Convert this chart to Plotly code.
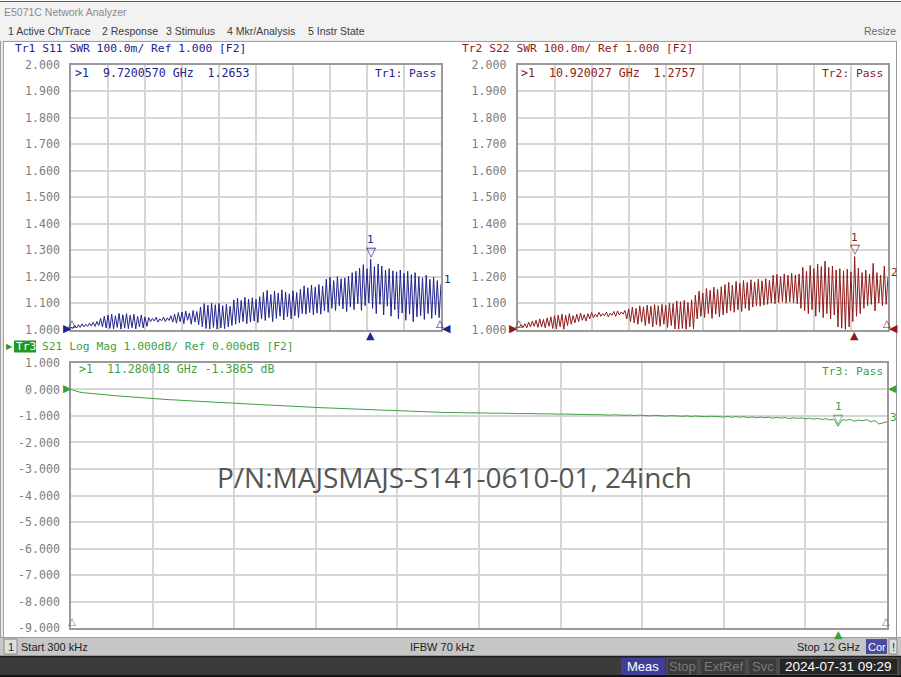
import numpy as np
import plotly.graph_objects as go

W, H = 901, 677          # reference picture size (layout positions below are in these pixels)
FIG_H = 690              # figure height used on the page (positions are fractions, so they scale)

# ---------------- data ----------------
start_ghz = 0.0003
stop_ghz = 12.0
n_points = 201

s11_swr = [
    1.008, 1.004, 1.016, 1.006, 1.018, 1.008, 1.021, 1.010, 1.020, 1.012,
    1.024, 1.013, 1.027, 1.012, 1.030, 1.015, 1.042, 1.010, 1.050, 1.006,
    1.055, 1.004, 1.058, 1.002, 1.052, 1.008, 1.061, 1.001, 1.056, 1.005,
    1.060, 1.003, 1.054, 1.007, 1.058, 1.002, 1.050, 1.010, 1.055, 1.006,
    1.048, 1.012, 1.045, 1.030, 1.042, 1.032, 1.046, 1.028, 1.040, 1.033,
    1.047, 1.030, 1.044, 1.034, 1.052, 1.028, 1.058, 1.024, 1.064, 1.030,
    1.066, 1.022, 1.070, 1.035, 1.062, 1.020, 1.072, 1.028, 1.068, 1.018,
    1.085, 1.010, 1.098, 1.004, 1.092, 1.002, 1.100, 1.008, 1.094, 1.001,
    1.099, 1.006, 1.090, 1.003, 1.096, 1.010, 1.088, 1.015, 1.112, 1.020,
    1.118, 1.025, 1.110, 1.030, 1.122, 1.022, 1.115, 1.028, 1.120, 1.032,
    1.114, 1.026, 1.124, 1.040, 1.140, 1.034, 1.148, 1.045, 1.132, 1.030,
    1.145, 1.042, 1.138, 1.050, 1.150, 1.036, 1.142, 1.048, 1.135, 1.040,
    1.146, 1.052, 1.140, 1.045, 1.152, 1.060, 1.165, 1.058, 1.158, 1.064,
    1.168, 1.056, 1.160, 1.062, 1.170, 1.058, 1.164, 1.070, 1.190, 1.065,
    1.198, 1.080, 1.185, 1.072, 1.200, 1.090, 1.192, 1.078, 1.195, 1.068,
    1.202, 1.085, 1.215, 1.075, 1.220, 1.098, 1.232, 1.072, 1.245, 1.090,
    1.230, 1.100, 1.2653, 1.080, 1.238, 1.060, 1.248, 1.095, 1.240, 1.055,
    1.225, 1.088, 1.230, 1.050, 1.222, 1.075, 1.218, 1.040, 1.225, 1.062,
    1.212, 1.035, 1.220, 1.058, 1.208, 1.030, 1.215, 1.048, 1.200, 1.052,
    1.195, 1.038, 1.205, 1.060, 1.190, 1.042, 1.198, 1.055, 1.185, 1.045,
    1.172,
]

s22_swr = [
    1.006, 1.010, 1.018, 1.008, 1.022, 1.006, 1.028, 1.010, 1.032, 1.012,
    1.035, 1.008, 1.040, 1.010, 1.038, 1.006, 1.044, 1.012, 1.048, 1.004,
    1.052, 1.002, 1.055, 1.010, 1.058, 1.000, 1.054, 1.015, 1.060, 1.020,
    1.052, 1.025, 1.058, 1.030, 1.062, 1.035, 1.056, 1.032, 1.060, 1.040,
    1.064, 1.045, 1.058, 1.048, 1.065, 1.050, 1.060, 1.052, 1.066, 1.048,
    1.062, 1.054, 1.068, 1.050, 1.070, 1.055, 1.066, 1.058, 1.072, 1.040,
    1.078, 1.030, 1.085, 1.025, 1.080, 1.020, 1.090, 1.028, 1.086, 1.015,
    1.092, 1.022, 1.088, 1.010, 1.094, 1.018, 1.090, 1.012, 1.095, 1.020,
    1.092, 1.008, 1.100, 1.015, 1.098, 1.002, 1.108, 1.000, 1.105, 1.004,
    1.110, 1.000, 1.102, 1.010, 1.112, 1.002, 1.130, 1.040, 1.145, 1.050,
    1.138, 1.045, 1.155, 1.060, 1.148, 1.042, 1.160, 1.058, 1.152, 1.048,
    1.162, 1.055, 1.170, 1.062, 1.178, 1.070, 1.168, 1.065, 1.182, 1.075,
    1.175, 1.068, 1.185, 1.080, 1.178, 1.072, 1.188, 1.085, 1.180, 1.090,
    1.190, 1.088, 1.184, 1.092, 1.192, 1.095, 1.186, 1.100, 1.205, 1.098,
    1.208, 1.102, 1.200, 1.105, 1.210, 1.100, 1.205, 1.104, 1.212, 1.100,
    1.206, 1.098, 1.210, 1.080, 1.235, 1.070, 1.220, 1.060, 1.242, 1.075,
    1.230, 1.050, 1.248, 1.065, 1.238, 1.045, 1.258, 1.060, 1.235, 1.040,
    1.240, 1.055, 1.225, 1.010, 1.230, 1.005, 1.222, 1.000, 1.228, 1.010,
    1.218, 1.030, 1.2757, 1.050, 1.232, 1.060, 1.215, 1.080, 1.225, 1.090,
    1.210, 1.095, 1.250, 1.070, 1.215, 1.100, 1.205, 1.090, 1.240, 1.095,
    1.200,
]

s21_db = [
    0.000, -0.055, -0.096, -0.121, -0.139, -0.157, -0.171, -0.189, -0.199, -0.213,
    -0.226, -0.238, -0.249, -0.262, -0.273, -0.286, -0.297, -0.309, -0.318, -0.331,
    -0.343, -0.352, -0.366, -0.373, -0.385, -0.391, -0.402, -0.408, -0.419, -0.425,
    -0.436, -0.442, -0.453, -0.459, -0.470, -0.476, -0.487, -0.493, -0.504, -0.510,
    -0.521, -0.527, -0.537, -0.543, -0.553, -0.559, -0.569, -0.575, -0.585, -0.591,
    -0.601, -0.607, -0.617, -0.623, -0.633, -0.639, -0.649, -0.655, -0.665, -0.671,
    -0.680, -0.685, -0.693, -0.697, -0.705, -0.709, -0.717, -0.721, -0.729, -0.733,
    -0.741, -0.745, -0.753, -0.757, -0.765, -0.768, -0.777, -0.780, -0.789, -0.792,
    -0.800, -0.806, -0.812, -0.817, -0.822, -0.828, -0.834, -0.840, -0.845, -0.852,
    -0.857, -0.862, -0.870, -0.866, -0.874, -0.872, -0.880, -0.876, -0.884, -0.881,
    -0.888, -0.884, -0.892, -0.889, -0.896, -0.892, -0.900, -0.897, -0.905, -0.901,
    -0.910, -0.905, -0.914, -0.910, -0.918, -0.914, -0.922, -0.918, -0.928, -0.922,
    -0.932, -0.926, -0.938, -0.930, -0.942, -0.936, -0.948, -0.940, -0.952, -0.946,
    -0.958, -0.950, -0.968, -0.955, -0.970, -0.960, -0.975, -0.962, -0.985, -0.968,
    -0.980, -0.972, -0.995, -0.975, -0.990, -0.982, -1.005, -0.985, -1.000, -0.992,
    -1.010, -0.995, -1.020, -1.000, -1.015, -1.005, -1.030, -1.010, -1.025, -1.015,
    -1.040, -1.018, -1.050, -1.025, -1.045, -1.030, -1.060, -1.035, -1.070, -1.040,
    -1.065, -1.045, -1.085, -1.050, -1.080, -1.060, -1.095, -1.065, -1.090, -1.070,
    -1.110, -1.080, -1.120, -1.090, -1.130, -1.100, -1.150, -1.120, -1.3865, -1.140,
    -1.160, -1.130, -1.200, -1.150, -1.180, -1.140, -1.220, -1.170, -1.300, -1.260,
    -1.220,
]

swr_ticks = [1.0, 1.1, 1.2, 1.3, 1.4, 1.5, 1.6, 1.7, 1.8, 1.9, 2.0]
swr_tick_labels = ["1.000", "1.100", "1.200", "1.300", "1.400", "1.500",
                   "1.600", "1.700", "1.800", "1.900", "2.000"]
db_ticks = [1, 0, -1, -2, -3, -4, -5, -6, -7, -8, -9]
db_tick_labels = ["1.000", "0.000", "-1.000", "-2.000", "-3.000", "-4.000",
                  "-5.000", "-6.000", "-7.000", "-8.000", "-9.000"]

marker_freq = [9.7200570, 10.920027, 11.280018]
marker_val = [1.2653, 1.2757, -1.3865]
marker_text = [">1\u00a0\u00a09.7200570\u00a0GHz\u00a0\u00a01.2653",
               ">1\u00a0\u00a010.920027\u00a0GHz\u00a0\u00a01.2757",
               ">1\u00a0\u00a011.280018\u00a0GHz\u00a0-1.3865\u00a0dB"]
ref_val = [1.0, 1.0, 0.0]

assert len(s11_swr) == n_points and len(s22_swr) == n_points and len(s21_db) == n_points
freq = np.linspace(start_ghz, stop_ghz, n_points)

# ---------------- style ----------------
NAVY = "#23238c"
RED = "#8e1b1b"
GREEN = "#3f9f3f"
GRID = "#d6d6d6"
BORDER = "#9a9a9a"
TICK = "#7d7d7d"
MONO = "DejaVu Sans Mono"
SANS = "Liberation Sans"
GLYPH = "DejaVu Sans"
VS = FIG_H / H  # vertical pixel factor for pixel shifts


def PX(x):
    return x / W


def PY(y):
    return 1 - y / H


fig = go.Figure()
fig.add_trace(go.Scatter(x=freq, y=s11_swr, mode="lines", line=dict(color=NAVY, width=1),
                         xaxis="x", yaxis="y", hoverinfo="skip"))
fig.add_trace(go.Scatter(x=freq, y=s22_swr, mode="lines", line=dict(color=RED, width=1),
                         xaxis="x2", yaxis="y2", hoverinfo="skip"))
fig.add_trace(go.Scatter(x=freq, y=s21_db, mode="lines", line=dict(color=GREEN, width=1),
                         xaxis="x3", yaxis="y3", hoverinfo="skip"))


def xax(domain, anchor):
    return dict(domain=domain, anchor=anchor, range=[start_ghz, stop_ghz],
                showticklabels=False, ticks="", showgrid=True, gridcolor=GRID, gridwidth=1.5,
                tick0=start_ghz, dtick=(stop_ghz - start_ghz) / 10, zeroline=False,
                showline=True, mirror=True, linecolor=BORDER, linewidth=1.5, fixedrange=True)


def yax(domain, anchor, rng, vals, labels):
    return dict(domain=domain, anchor=anchor, range=rng, tickmode="array",
                tickvals=vals, ticktext=labels, ticks="", showgrid=True, gridcolor=GRID,
                gridwidth=1.5, zeroline=False, showline=True, mirror=True, linecolor=BORDER,
                linewidth=1.5, tickfont=dict(family=MONO, size=11.6, color=TICK),
                ticklabelstandoff=7, fixedrange=True)


top_y = [PY(329), PY(64)]
fig.update_layout(
    xaxis=xax([PX(71), PX(441)], "y"),
    yaxis=yax(top_y, "x", [1, 2], swr_ticks, swr_tick_labels),
    xaxis2=xax([PX(517.5), PX(888)], "y2"),
    yaxis2=yax(top_y, "x2", [1, 2], swr_ticks, swr_tick_labels),
    xaxis3=xax([PX(71), PX(887)], "y3"),
    yaxis3=yax([PY(628), PY(362.5)], "x3", [-9, 1], db_ticks, db_tick_labels),
)

shapes = []


def rect(x0, y0, x1, y1, fill, line=None, lw=0):
    shapes.append(dict(type="rect", xref="paper", yref="paper", x0=PX(x0), x1=PX(x1),
                       y0=PY(y1), y1=PY(y0), fillcolor=fill,
                       line=dict(color=line or fill, width=lw), layer="below"))


def hline(x0, x1, y, color, w=1):
    shapes.append(dict(type="line", xref="paper", yref="paper", x0=PX(x0), x1=PX(x1),
                       y0=PY(y), y1=PY(y), line=dict(color=color, width=w), layer="above"))


def vline(x, y0, y1, color, w=1):
    shapes.append(dict(type="line", xref="paper", yref="paper", x0=PX(x), x1=PX(x),
                       y0=PY(y0), y1=PY(y1), line=dict(color=color, width=w), layer="above"))


# window chrome
rect(0, 0, 901, 40, "#f2f2f2")
hline(0, 901, 0.5, "#555555", 1)
rect(0, 637, 901, 656, "#c6c6c6")
hline(0, 901, 637.5, "#9a9a9a", 1)
rect(0, 656, 901, 677, "#3b3b3b")
hline(0, 901, 656.5, "#1e1e1e", 1.5)
hline(0, 901, 676, "#141414", 2)
vline(0.7, 40, 637, "#8a8a8a", 1)
vline(3.3, 40, 637, "#8a8a8a", 1)
hline(3, 897, 40.5, "#9a9a9a", 1)
vline(896.5, 40, 637, "#9a9a9a", 1)
# status bar boxes
rect(4, 639, 17, 654, "#dedede", "#8a8a8a", 1)
rect(866, 639, 887, 654, "#4a4a9e")
rect(889, 639, 897, 654, "#dedede", "#8a8a8a", 1)
# bottom bar boxes
rect(621, 658, 665, 675, "#3f3f99")
rect(667, 658, 698, 675, "#3b3b3b", "#5c5c5c", 1)
rect(700, 658, 746, 675, "#3b3b3b", "#5c5c5c", 1)
rect(748, 658, 777, 675, "#3b3b3b", "#5c5c5c", 1)
rect(779, 658, 898, 675, "#262626", "#6a6a6a", 1)
rect(14, 340, 36, 352, "#1f991f")

ann = []


def T(x, y, text, color, size=11.3, family=MONO, xanchor="left", yanchor="middle"):
    ann.append(dict(x=PX(x), y=PY(y), xref="paper", yref="paper", text=text, showarrow=False,
                    font=dict(family=family, size=size, color=color), xanchor=xanchor,
                    yanchor=yanchor, borderpad=0))


def G(xr, yr, x, y, glyph, color, size, dx=0, dy=0, family=GLYPH):
    ann.append(dict(x=x, y=y, xref=xr, yref=yr, text=glyph, showarrow=False,
                    font=dict(family=family, size=size, color=color), xanchor="center",
                    yanchor="middle", xshift=dx, yshift=dy * VS, borderpad=0))


# header texts
T(3, 11, "E5071C Network Analyzer", "#8c8c8c", 10.5, SANS)
for xx, s in [(7, "1 Active Ch/Trace"), (101, "2 Response"), (165, "3 Stimulus"),
              (226, "4 Mkr/Analysis"), (307, "5 Instr State")]:
    T(xx, 30, s, "#3c3c3c", 10.5, SANS)
T(897, 30, "Resize", "#6a6a6a", 10.5, SANS, xanchor="right")

# channel titles
T(14, 48, "Tr1\u00a0S11\u00a0SWR\u00a0100.0m/\u00a0Ref\u00a01.000\u00a0[F2]", NAVY, 11.3)
T(461, 48, "Tr2\u00a0S22\u00a0SWR\u00a0100.0m/\u00a0Ref\u00a01.000\u00a0[F2]", RED, 11.3)
T(14.5, 346, "Tr3", "#ffffff", 11.3)
T(41, 346, "S21\u00a0Log\u00a0Mag\u00a01.000dB/\u00a0Ref\u00a00.000dB\u00a0[F2]", GREEN, 11.3)
T(5, 346, "\u25B6", "#1f991f", 8, GLYPH)

# marker readouts / pass
T(74, 72, marker_text[0], NAVY, 11.6)
T(437, 73, "Tr1:\u00a0Pass", NAVY, 11.3, xanchor="right")
T(520, 72, marker_text[1], RED, 11.6)
T(884, 73, "Tr2:\u00a0Pass", RED, 11.3, xanchor="right")
T(78, 369, marker_text[2], GREEN, 11.6)
T(884, 371, "Tr3:\u00a0Pass", GREEN, 11.3, xanchor="right")

# part number
T(454, 477, "P/N:MAJSMAJS-S141-0610-01, 24inch", "#555555", 28, "Open Sans", xanchor="center")

# status bar
T(10.5, 647, "1", "#222222", 11, SANS, xanchor="center")
T(20, 647, "Start 300 kHz", "#222222", 11, SANS)
T(442, 647, "IFBW 70 kHz", "#222222", 11, SANS, xanchor="center")
T(861, 647, "Stop 12 GHz", "#222222", 11, SANS, xanchor="right")
T(876.5, 647, "Cor", "#ffffff", 11, SANS, xanchor="center")
T(893, 647, "!", "#222222", 11, SANS, xanchor="center")
# bottom bar
T(643, 666.5, "Meas", "#ffffff", 13, SANS, xanchor="center")
T(682.5, 666.5, "Stop", "#7a7a7a", 13, SANS, xanchor="center")
T(723, 666.5, "ExtRef", "#7a7a7a", 13, SANS, xanchor="center")
T(762.5, 666.5, "Svc", "#7a7a7a", 13, SANS, xanchor="center")
T(838, 666.5, "2024-07-31 09:29", "#ffffff", 13.5, SANS, xanchor="center")

# trace decorations (anchored to data via axis scales)
traces_info = [
    ("x", "y", NAVY, s11_swr, 1.0, "1"),
    ("x2", "y2", RED, s22_swr, 1.0, "2"),
    ("x3", "y3", GREEN, s21_db, -9.0, "3"),
]
for k, (xr, yr, col, vals, bottom, num) in enumerate(traces_info):
    ref = ref_val[k]
    G(xr, yr, start_ghz, ref, "\u25B6\ufe0e", col, 11, dx=-4, dy=1)
    G(xr, yr, stop_ghz, ref, "\u25C0\ufe0e", col, 11, dx=5, dy=1)
    G(xr, yr, start_ghz, bottom, "\u25B3", col, 10, dx=1, dy=6)
    G(xr, yr, stop_ghz, bottom, "\u25B3", col, 10, dx=-1, dy=6)
    G(xr, yr, marker_freq[k], marker_val[k], "\u25BD", col, 13, dy=8)
    G(xr, yr, marker_freq[k], marker_val[k], "1", col, 11, dy=19, family=MONO)
    G(xr, yr, marker_freq[k], bottom, "\u25B2\ufe0e", col, 11, dy=-6)
    G(xr, yr, stop_ghz, vals[-1], num, col, 11, dx=6, dy=4, family=MONO)

fig.update_layout(
    width=W, height=FIG_H, margin=dict(l=0, r=0, t=0, b=0), showlegend=False,
    paper_bgcolor="#ffffff", plot_bgcolor="#ffffff",
    shapes=shapes, annotations=ann,
)

fix_page = ("document.documentElement.style.margin='0';"
            "document.documentElement.style.overflow='hidden';"
            "document.body.style.margin='0';document.body.style.overflow='hidden';"
            "var d=document.getElementById('{plot_id}');"
            "if(d){d.style.position='fixed';d.style.left='0px';d.style.top='-6.5px';}")
fig.write_html("out.html", config={"displayModeBar": False}, post_script=fix_page)
